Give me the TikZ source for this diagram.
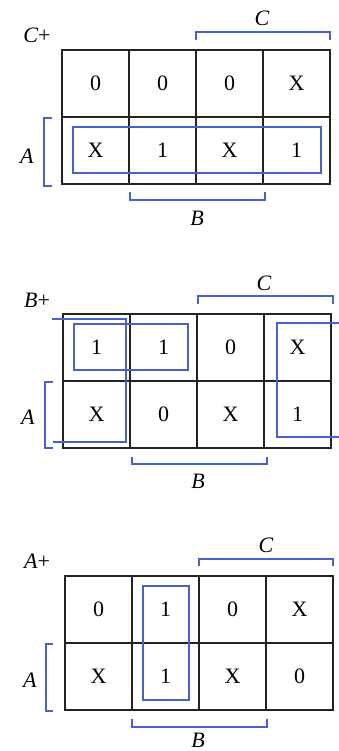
\documentclass[tikz,border=0pt]{standalone}
\usepackage{fontspec}
\setmainfont{Liberation Serif}
\usepackage{xcolor}
\usetikzlibrary{positioning}

\definecolor{loopblue}{RGB}{72,98,205}
\definecolor{gridgray}{RGB}{35,35,35}

\begin{document}
\begin{tikzpicture}[
		x=1pt,
		y=-1pt,
		line join=miter,
		cellgrid/.style={draw=gridgray, line width=1.5pt},
		bracket/.style={draw=loopblue, line width=1.2pt},
		grouploop/.style={draw=loopblue, line width=1.3pt},
		cellval/.style={font=\fontsize{22}{25}\selectfont, inner sep=0pt},
		maplabel/.style={font=\fontsize{22}{25}\selectfont, inner sep=0pt}
		]
		
		% page
		\useasboundingbox (0,0) rectangle (339,751);
		
		% ---------- C+ map ----------
		\begin{scope}[shift={(62,50)}]
			% grid
			\draw[cellgrid] (0,0) rectangle (268,134);
			\draw[cellgrid] (0,67) -- (268,67);
			\foreach \c in {1,2,3}
				\draw[cellgrid] (\c*67,0) -- (\c*67,134);
			
			% cell values
			\foreach \v [count=\c] in {0,0,0,X}
				\node[cellval] (cp-0-\c) at (\c*67-33.5,33.5) {\v};
			\foreach \v [count=\c] in {X,1,X,1}
				\node[cellval] (cp-1-\c) at (\c*67-33.5,100.5) {\v};
			
			% variable brackets
			\draw[bracket] (134,-10) -- (134,-18) -- (268,-18) -- (268,-10);
			\draw[bracket] (-10,68) -- (-18,68) -- (-18,136) -- (-10,136);
			\draw[bracket] (68,142) -- (68,150) -- (203,150) -- (203,142);
			
			% labels
			\node[maplabel] (cp-name) at (-25,-15) {\textit{C}+};
			\node[maplabel] (cp-c) at (200,-32) {\textit{C}};
			\node[maplabel] (cp-a) at (-35,106) {\textit{A}};
			\node[maplabel] (cp-b) at (135,168) {\textit{B}};
			
			% loop
			\draw[grouploop] (11,77) rectangle (259,123);
		\end{scope}
		
		% ---------- B+ map ----------
		\begin{scope}[shift={(63,314)}]
			% grid
			\draw[cellgrid] (0,0) rectangle (268,134);
			\draw[cellgrid] (0,67) -- (268,67);
			\foreach \c in {1,2,3}
				\draw[cellgrid] (\c*67,0) -- (\c*67,134);
			
			% cell values
			\foreach \v [count=\c] in {1,1,0,X}
				\node[cellval] (bp-0-\c) at (\c*67-33.5,33.5) {\v};
			\foreach \v [count=\c] in {X,0,X,1}
				\node[cellval] (bp-1-\c) at (\c*67-33.5,100.5) {\v};
			
			% variable brackets
			\draw[bracket] (135,-10) -- (135,-18) -- (270,-18) -- (270,-10);
			\draw[bracket] (-10,68) -- (-18,68) -- (-18,134) -- (-10,134);
			\draw[bracket] (69,143) -- (69,150) -- (204,150) -- (204,143);
			
			% labels
			\node[maplabel] (bp-name) at (-26,-14) {\textit{B}+};
			\node[maplabel] (bp-c) at (201,-31) {\textit{C}};
			\node[maplabel] (bp-a) at (-35,103) {\textit{A}};
			\node[maplabel] (bp-b) at (135,167) {\textit{B}};
			
			% loops
			\draw[grouploop] (11,10) rectangle (125,56);
			\draw[grouploop] (-11,5) -- (63,5) -- (63,128) -- (-10,128);
			\draw[grouploop] (276,9) -- (214,9) -- (214,123) -- (276,123);
		\end{scope}
		
		% ---------- A+ map ----------
		\begin{scope}[shift={(65,576)}]
			% grid
			\draw[cellgrid] (0,0) rectangle (268,134);
			\draw[cellgrid] (0,67) -- (268,67);
			\foreach \c in {1,2,3}
				\draw[cellgrid] (\c*67,0) -- (\c*67,134);
			
			% cell values
			\foreach \v [count=\c] in {0,1,0,X}
				\node[cellval] (ap-0-\c) at (\c*67-33.5,33.5) {\v};
			\foreach \v [count=\c] in {X,1,X,0}
				\node[cellval] (ap-1-\c) at (\c*67-33.5,100.5) {\v};
			
			% variable brackets
			\draw[bracket] (134,-10) -- (134,-17) -- (268,-17) -- (268,-10);
			\draw[bracket] (-12,68) -- (-19,68) -- (-19,135) -- (-12,135);
			\draw[bracket] (67,143) -- (67,151) -- (202,151) -- (202,143);
			
			% labels
			\node[maplabel] (ap-name) at (-28,-15) {\textit{A}+};
			\node[maplabel] (ap-c) at (201,-31) {\textit{C}};
			\node[maplabel] (ap-a) at (-35,104) {\textit{A}};
			\node[maplabel] (ap-b) at (133,164) {\textit{B}};
			
			% loop
			\draw[grouploop] (78,10) rectangle (124,124);
		\end{scope}
	\end{tikzpicture}
\end{document}
